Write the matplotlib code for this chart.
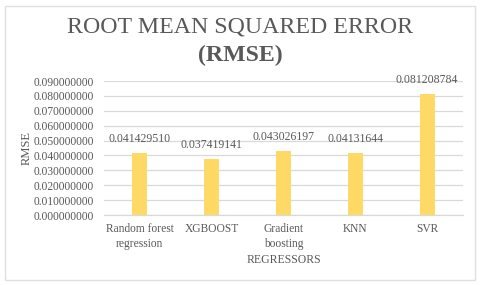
import matplotlib
matplotlib.use("Agg")
import matplotlib.pyplot as plt
from matplotlib.patches import FancyBboxPatch

plt.rcParams["font.family"] = ["Liberation Serif", "DejaVu Serif"]

# 資料
regressors = ["Random forest\nregression", "XGBOOST", "Gradient\nboosting", "KNN", "SVR"]
rmse = [0.041429510, 0.037419141, 0.043026197, 0.04131644, 0.081208784]
rmse_labels = ["0.041429510", "0.037419141", "0.043026197", "0.04131644", "0.081208784"]
yticks = [0.00, 0.01, 0.02, 0.03, 0.04, 0.05, 0.06, 0.07, 0.08, 0.09]

text_color = "#595959"
grid_color = "#D9D9D9"
bar_color = "#FFD966"

fig = plt.figure(figsize=(4.8, 2.85), dpi=100)
ax = fig.add_axes([104 / 480, 1 - 215 / 285, 359 / 480, 134 / 285])

# 外框
fig.patches.append(FancyBboxPatch((5 / 480, 5 / 285), 470 / 480, 274 / 285,
                                  boxstyle="square,pad=0", transform=fig.transFigure,
                                  facecolor="none", edgecolor="#E0E0E0", linewidth=1.0))

x = range(len(regressors))
bars = ax.bar(x, rmse, width=0.21, color=bar_color, zorder=3)
for b, lab in zip(bars, rmse_labels):
    ax.annotate(lab, (b.get_x() + b.get_width() / 2, b.get_height()),
                xytext=(0, 6), textcoords="offset points",
                ha="center", va="bottom", fontsize=8.5, color=text_color)

ax.set_xlim(-0.5, len(regressors) - 0.5)
ax.set_ylim(0, 0.09)
ax.set_yticks(yticks)
ax.set_yticklabels([f"{v:.9f}" for v in yticks])
ax.set_xticks(list(x))
ax.set_xticklabels(regressors, linespacing=1.25)
ax.tick_params(axis="both", length=0, labelsize=8.3, colors=text_color)
ax.tick_params(axis="y", pad=7)
ax.tick_params(axis="x", pad=6)

ax.grid(axis="y", color=grid_color, linewidth=0.9, zorder=0)
for s in ["top", "right", "left"]:
    ax.spines[s].set_visible(False)
ax.spines["bottom"].set_color(grid_color)
ax.spines["bottom"].set_linewidth(0.9)

ax.set_ylabel("RMSE", fontsize=9, color=text_color, labelpad=1)
ax.set_xlabel("REGRESSORS", fontsize=8.5, color=text_color, labelpad=3)

fig.text(240 / 480, 1 - 27 / 285, "ROOT MEAN SQUARED ERROR", ha="center", va="center",
         fontsize=17.2, color=text_color)
fig.text(240 / 480, 1 - 55 / 285, "(RMSE)", ha="center", va="center",
         fontsize=17.2, fontweight="bold", color=text_color)

fig.savefig("out.png", dpi=100)
